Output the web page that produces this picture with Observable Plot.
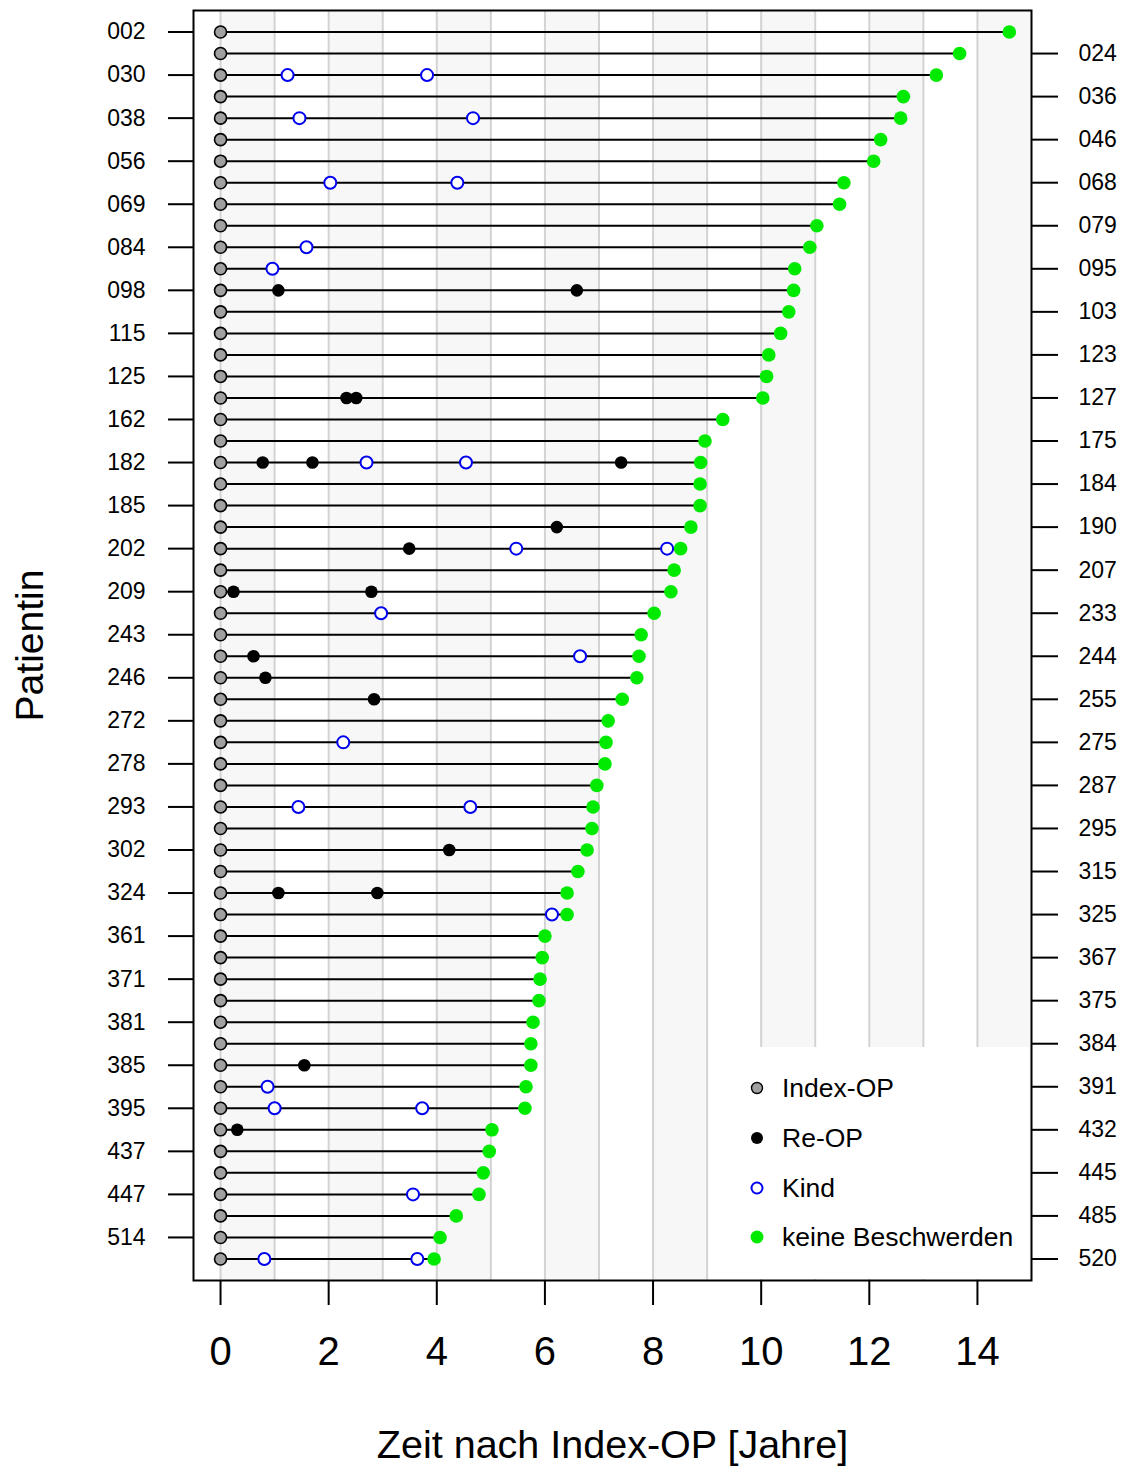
<!DOCTYPE html>
<html>
<head>
<meta charset="utf-8">
<script src="https://cdn.jsdelivr.net/npm/d3@7"></script>
<script src="https://cdn.jsdelivr.net/npm/@observablehq/plot@0.6"></script>
<style>
  html, body { margin: 0; padding: 0; background: white; }
  #wrap { position: relative; width: 1128px; height: 1470px; font-family: "Liberation Sans", Arial, sans-serif; }
  #legend { position: absolute; left: 736px; top: 1047px; width: 293px; height: 232px; background: white; }
  #legend .row { position: absolute; left: 0; height: 30px; display: flex; align-items: center; font-size: 26.5px; color: black; white-space: nowrap; }
  #legend svg { margin-left: 14px; margin-right: 18px; }
</style>
</head>
<body>
<div id="wrap"></div>
<script>
// Patients (top to bottom)
const patients = ["002","024","030","036","038","046","056","068","069","079",
  "084","095","098","103","115","123","125","127","162","175",
  "182","184","185","190","202","207","209","233","243","244",
  "246","255","272","275","278","287","293","295","302","315",
  "324","325","361","367","371","375","381","384","385","391",
  "395","432","437","445","447","485","514","520"];
// Follow-up end (keine Beschwerden), years
const endTimes = [14.59,13.67,13.24,12.63,12.58,12.21,12.08,11.53,11.45,11.03,
  10.90,10.62,10.60,10.51,10.36,10.14,10.10,10.03,9.29,8.96,
  8.88,8.87,8.87,8.70,8.51,8.39,8.33,8.02,7.78,7.74,
  7.70,7.43,7.17,7.13,7.11,6.96,6.89,6.87,6.78,6.61,
  6.41,6.41,6.00,5.95,5.91,5.89,5.78,5.74,5.74,5.65,
  5.63,5.02,4.97,4.86,4.78,4.36,4.06,3.95];
// Re-OP events
const reOpPatient = ["098","098","127","127","182","182","182","190","202","209","209","244","246","255","302","324","324","385","432"];
const reOpTime    = [1.07, 6.59, 2.33, 2.51, 0.78, 1.70, 7.41, 6.22, 3.49, 0.24, 2.79, 0.61, 0.83, 2.84, 4.23, 1.07, 2.90, 1.55, 0.31];
// Kind events
const kindPatient = ["030","030","038","038","068","068","084","095","182","182","202","202","233","244","275","293","293","325","391","395","395","447","520","520"];
const kindTime    = [1.24, 3.82, 1.46, 4.67, 2.03, 4.38, 1.59, 0.96, 2.70, 4.54, 5.47, 8.26, 2.97, 6.65, 2.27, 1.44, 4.62, 6.13, 0.87, 1.00, 3.73, 3.56, 0.81, 3.64];
// Axis ticks
const xTicks = [0, 2, 4, 6, 8, 10, 12, 14];
const yearLines = d3.range(0, 15);
const shadedYears = [0, 2, 4, 6, 8, 10, 12, 14];
const leftTicks = patients.filter((d, i) => i % 2 === 0);
const rightTicks = patients.filter((d, i) => i % 2 === 1);
const legendLabels = ["Index-OP", "Re-OP", "Kind", "keine Beschwerden"];

const rows = patients.map((p, i) => ({p, end: endTimes[i]}));
const reOps = reOpPatient.map((p, i) => ({p, t: reOpTime[i]}));
const kinds = kindPatient.map((p, i) => ({p, t: kindTime[i]}));

const GRAY = "#a0a0a0", BLUE = "#0000ee", GREEN = "#00ea00";

const chart = Plot.plot({
  width: 1128,
  height: 1470,
  marginLeft: 193,
  marginRight: 97,
  marginTop: 10,
  marginBottom: 190,
  style: {fontFamily: "'Liberation Sans', Arial, sans-serif", background: "white", color: "black"},
  x: {domain: [-0.5, 15]},
  y: {type: "point", domain: patients, padding: 1, round: false},
  marks: [
    Plot.rect(shadedYears, {x1: d => d, x2: d => d + 1, fill: "#f7f7f7"}),
    Plot.ruleX(yearLines, {stroke: "#d3d3d3", strokeWidth: 2}),
    Plot.ruleY(rows, {y: "p", x1: () => 0, x2: "end", stroke: "black", strokeWidth: 2}),
    Plot.dot(rows, {x: () => 0, y: "p", r: 6, fill: GRAY, stroke: "black", strokeWidth: 1.6}),
    Plot.dot(reOps, {x: "t", y: "p", r: 6.3, fill: "black", stroke: "none"}),
    Plot.dot(kinds, {x: "t", y: "p", r: 6, fill: "white", stroke: BLUE, strokeWidth: 2}),
    Plot.dot(rows, {x: "end", y: "p", r: 6.8, fill: GREEN, stroke: "none"}),
    Plot.axisX({ticks: xTicks, tickSize: 25, tickPadding: 31, fontSize: 40, strokeWidth: 2, label: null, tickFormat: d => String(d)}),
    Plot.axisY({ticks: leftTicks, anchor: "left", tickSize: 25, tickPadding: 23, fontSize: 23, strokeWidth: 2, label: null}),
    Plot.axisY({ticks: rightTicks, anchor: "right", tickSize: 26, tickPadding: 21, fontSize: 23, strokeWidth: 2, label: null}),
    Plot.frame({stroke: "black", strokeWidth: 2}),
    Plot.text(["Zeit nach Index-OP [Jahre]"], {text: d => d, frameAnchor: "bottom", lineAnchor: "middle", textAnchor: "middle", dy: 165, fontSize: 39.5}),
    Plot.text(["Patientin"], {text: d => d, frameAnchor: "left", lineAnchor: "middle", textAnchor: "middle", dx: -163, rotate: -90, fontSize: 39})
  ]
});

const wrap = document.getElementById("wrap");
wrap.appendChild(chart);

// Legend (overlay inside plot area, bottom-right)
const legend = document.createElement("div");
legend.id = "legend";
const styles = [
  {fill: GRAY, stroke: "black", sw: 1.4, r: 5.5},
  {fill: "black", stroke: "none", sw: 0, r: 6},
  {fill: "white", stroke: BLUE, sw: 2, r: 5.5},
  {fill: GREEN, stroke: "none", sw: 0, r: 6.5}
];
const rowCenters = [41, 91, 141, 190];
legendLabels.forEach((lab, i) => {
  const row = document.createElement("div");
  row.className = "row";
  row.style.top = (rowCenters[i] - 15) + "px";
  const s = styles[i];
  row.innerHTML = `<svg width="14" height="14" viewBox="-7 -7 14 14"><circle r="${s.r}" fill="${s.fill}" stroke="${s.stroke}" stroke-width="${s.sw}"/></svg><span>${lab}</span>`;
  legend.appendChild(row);
});
wrap.appendChild(legend);
</script>
</body>
</html>
